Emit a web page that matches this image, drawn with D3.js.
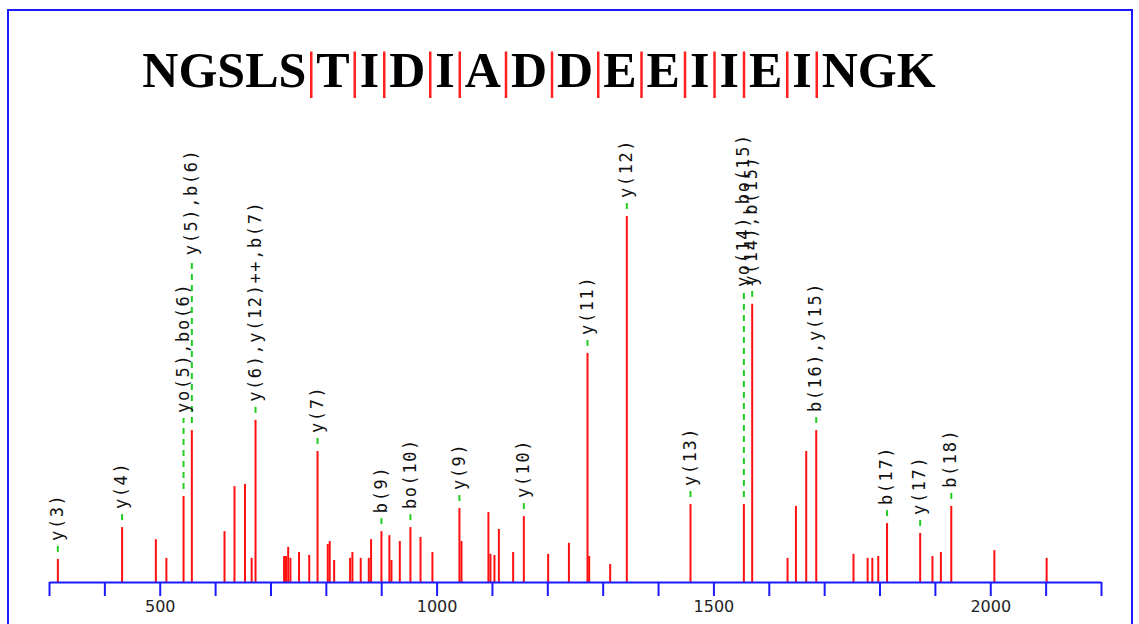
<!DOCTYPE html>
<html lang="en">
<head>
    <meta charset="UTF-8">
    <title>Spectrum NGSLSTIDIADDEEIIEINGK</title>
    <script src="https://d3js.org/d3.v7.min.js"></script>
    <style>
        body {
            margin: 0;
            padding: 0;
            background-color: #fff;
        }
        svg {
            display: block;
        }
        .peak { stroke: #ff1010; stroke-width: 2; }
        .lead { stroke: #22cc22; stroke-width: 2; stroke-dasharray: 6,5; }
        .ion-label {
            font-family: "DejaVu Sans Mono", monospace;
            font-size: 17px;
            letter-spacing: 1.6px;
            fill: #111;
        }
        .axis path, .axis line { stroke: #1a1aff; stroke-width: 2; }
        .axis text {
            font-family: "DejaVu Sans", sans-serif;
            font-size: 16px;
            fill: #222;
        }
    </style>
</head>
<body>
    <svg id="chart" width="1139" height="624"></svg>

    <script>
        // peptide sequence, "|" marks fragment cleavages
        const sequence = ["NGSLS", "T", "I", "D", "I", "A", "D", "D", "E", "E", "I", "I", "E", "I", "NGK"];

        // peaks: m/z and relative intensity (%)
        const peakMz = [316, 432, 493, 512, 543, 558, 617, 635, 654, 666, 673,
            724.6, 728, 732, 736, 751.6, 770, 785, 803.5, 807, 815, 843.8, 848, 863,
            877.6, 881.7, 900.4, 914.8, 918.5, 933.6, 952.8, 971, 992.5, 1041.3, 1045,
            1093.6, 1097.3, 1104.5, 1112.5, 1138.3, 1157.6, 1201.5, 1239, 1272.6, 1275.6,
            1313.5, 1343.6, 1458.6, 1555, 1570, 1633.9, 1649, 1667.6, 1685.7, 1753,
            1778.5, 1787, 1797.7, 1813.6, 1873.4, 1895.6, 1910.8, 1929.6, 2007.4, 2101.8];
        const peakInt = [6.3, 15.0, 11.7, 6.6, 23.5, 41.5, 13.9, 26.2, 26.8, 6.6, 44.3,
            7.1, 7.1, 9.6, 6.6, 8.2, 7.4, 35.8, 10.4, 11.2, 6.0, 6.6, 8.2, 6.6,
            6.6, 11.7, 13.9, 12.8, 6.0, 11.2, 15.0, 12.3, 8.2, 20.2, 11.2,
            19.1, 7.7, 7.4, 14.5, 8.2, 18.0, 7.7, 10.7, 62.6, 7.1,
            4.9, 100, 21.3, 21.3, 76.0, 6.6, 20.8, 35.8, 41.5, 7.7,
            6.6, 6.6, 7.1, 16.1, 13.4, 7.1, 8.2, 20.8, 8.7, 6.6];

        // annotated fragment ions
        const ionMz = [316, 432, 543, 558, 673, 785, 900.4, 952.8, 1041.3, 1157.6,
            1272.6, 1343.6, 1458.6, 1555, 1570, 1685.7, 1813.6, 1873.4, 1929.6];
        const ionText = ["y(3)", "y(4)", "yo(5),bo(6)", "y(5),b(6)", "y(6),y(12)++,b(7)",
            "y(7)", "b(9)", "bo(10)", "y(9)", "y(10)", "y(11)", "y(12)", "y(13)",
            "yo(14),bo(15)", "y(14),b(15)", "b(16),y(15)", "b(17)", "y(17)", "b(18)"];
        // level (intensity units) where a shifted label starts, null = just above peak
        const ionLevel = [null, null, 46.2, 89.3, null, null, null, null, null, null,
            null, null, null, 80.6, null, null, null, null, null];

        const xTicks = d3.range(300, 2201, 100);
        const xLabels = [500, 1000, 1500, 2000];

        const svg = d3.select("#chart");

        // frame
        svg.append("rect")
            .attr("x", 8).attr("y", 10)
            .attr("width", 1124).attr("height", 640)
            .attr("fill", "none")
            .attr("stroke", "#1a1aff")
            .attr("stroke-width", 2);

        // title
        const title = svg.append("text")
            .attr("x", 539).attr("y", 87)
            .attr("text-anchor", "middle")
            .style("font-family", "'Liberation Serif', 'Times New Roman', serif")
            .style("font-weight", "bold")
            .style("font-size", "50px");
        sequence.forEach((s, i) => {
            if (i > 0) title.append("tspan").attr("fill", "#ff2020").style("font-weight", "normal").text("|");
            title.append("tspan").attr("fill", "#000").text(s);
        });

        const x = d3.scaleLinear().domain([300, 2200]).range([49, 1101]);
        const y = d3.scaleLinear().domain([0, 100]).range([582, 216]);

        const peaks = peakMz.map((m, i) => ({ mz: m, v: peakInt[i] }));

        svg.append("g").selectAll("line")
            .data(peaks)
            .enter().append("line")
            .attr("class", "peak")
            .attr("x1", d => x(d.mz)).attr("x2", d => x(d.mz))
            .attr("y1", y(0)).attr("y2", d => y(d.v));

        // labels
        const ions = ionMz.map((m, i) => {
            const v = peakInt[peakMz.indexOf(m)];
            const base = ionLevel[i] === null ? y(v) - 18 : y(ionLevel[i]);
            return { mz: m, v: v, text: ionText[i], base: base };
        });

        const lab = svg.append("g");
        lab.selectAll("line")
            .data(ions)
            .enter().append("line")
            .attr("class", "lead")
            .attr("x1", d => x(d.mz)).attr("x2", d => x(d.mz))
            .attr("y1", d => y(d.v) - 7)
            .attr("y2", d => d.base + 5);

        lab.selectAll("text")
            .data(ions)
            .enter().append("text")
            .attr("class", "ion-label")
            .attr("transform", d => `translate(${x(d.mz)},${d.base}) rotate(-90)`)
            .attr("dy", "0.3em")
            .text(d => d.text);

        // axis
        svg.append("g")
            .attr("class", "axis")
            .attr("transform", `translate(0,${y(0)})`)
            .call(d3.axisBottom(x)
                .tickValues(xTicks)
                .tickSize(14)
                .tickSizeOuter(0)
                .tickPadding(5)
                .tickFormat(d => xLabels.includes(d) ? d : ""));
    </script>
</body>
</html>
